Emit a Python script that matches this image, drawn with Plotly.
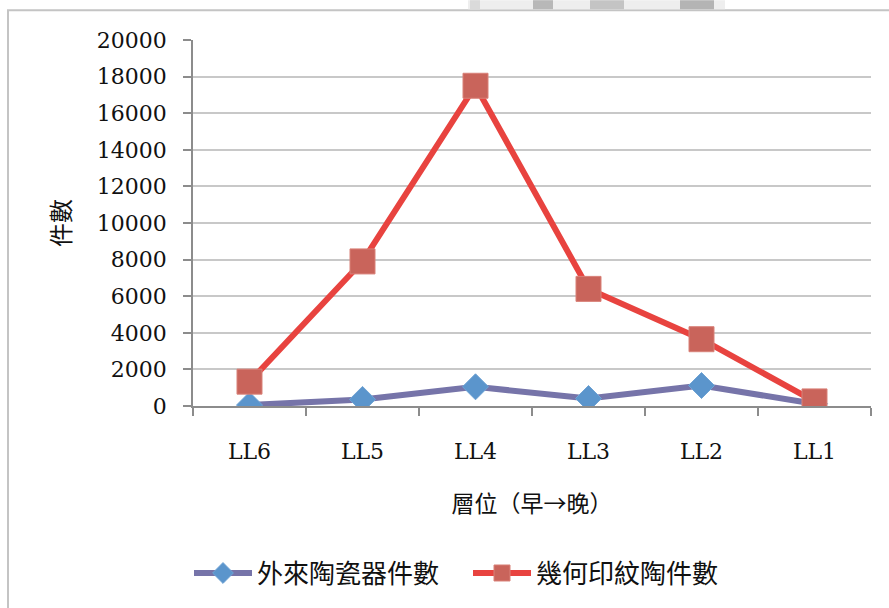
import plotly.graph_objects as go

# ---- data ----
layers = ["LL6", "LL5", "LL4", "LL3", "LL2", "LL1"]
foreign_ceramics = [50, 360, 1050, 410, 1120, 120]        # 外來陶瓷器件數
geometric_pottery = [1330, 7900, 17500, 6400, 3650, 250]  # 幾何印紋陶件數
y_ticks = [0, 2000, 4000, 6000, 8000, 10000, 12000, 14000, 16000, 18000, 20000]

W, H = 889, 608
ML, MR, MT, MB = 193, 18, 40, 200
PW, PH = W - ML - MR, H - MT - MB


def px_x(x):
    return (x - ML) / PW


def px_y(y):
    return (H - MB - y) / PH


CJK = "Noto Sans CJK TC, Noto Sans CJK SC, sans-serif"
SERIF = "DejaVu Serif, Liberation Serif, serif"

fig = go.Figure()
fig.add_trace(go.Scatter(
    x=layers, y=foreign_ceramics, name="外來陶瓷器件數",
    mode="lines+markers",
    line=dict(color="#7674a9", width=6),
    marker=dict(symbol="diamond", size=20, color="#5b95cc",
                line=dict(color="#6fa3d4", width=1)),
))
fig.add_trace(go.Scatter(
    x=layers, y=geometric_pottery, name="幾何印紋陶件數",
    mode="lines+markers",
    line=dict(color="#e8433f", width=6),
    marker=dict(symbol="square", size=25, color="#c9645b",
                line=dict(color="#d98178", width=1)),
))

shapes = [
    # outer chart frame (cut off at right and bottom)
    dict(type="rect", xref="paper", yref="paper",
         x0=px_x(8), x1=px_x(W + 10), y0=px_y(H + 10), y1=px_y(10),
         line=dict(color="#c4c4c4", width=2), fillcolor="rgba(0,0,0,0)", layer="below"),
    # faint image fragment peeking above the frame
    dict(type="rect", xref="paper", yref="paper",
         x0=px_x(468), x1=px_x(725), y0=px_y(9), y1=px_y(0),
         line=dict(width=0), fillcolor="#eeeeee", layer="below"),
]
for a, b, c in [(533, 553, "#b8b8b8"), (590, 624, "#c4c4c4"), (680, 714, "#b4b4b4"), (470, 480, "#dadada")]:
    shapes.append(dict(type="rect", xref="paper", yref="paper",
                       x0=px_x(a), x1=px_x(b), y0=px_y(9), y1=px_y(0),
                       line=dict(width=0), fillcolor=c, layer="below"))

fig.update_layout(
    width=W, height=H,
    margin=dict(l=ML, r=MR, t=MT, b=MB, pad=0),
    paper_bgcolor="white", plot_bgcolor="white",
    showlegend=True,
    legend=dict(orientation="h", x=px_x(189), xanchor="left",
                y=px_y(576), yanchor="middle",
                font=dict(family=CJK, size=26, color="#111111"),
                itemwidth=58, entrywidth=206, entrywidthmode="pixels",
                tracegroupgap=0, bgcolor="rgba(0,0,0,0)"),
    shapes=shapes,
    xaxis=dict(
        type="category", range=[-0.5, 5.5],
        showline=True, linecolor="#8c8c8c", linewidth=1.5,
        ticks="outside", tickson="boundaries", ticklen=8, tickcolor="#8c8c8c", tickwidth=1.5,
        showgrid=False, zeroline=False,
        tickfont=dict(family=SERIF, size=22, color="#111111"),
        ticklabelstandoff=25,
        title=dict(text="層位（早→晚）", font=dict(family=CJK, size=23, color="#111111"), standoff=33),
    ),
    yaxis=dict(
        range=[0, 20000], tickvals=y_ticks, ticktext=[str(v) for v in y_ticks],
        showline=True, linecolor="#8c8c8c", linewidth=1.5,
        ticks="outside", ticklen=8, tickcolor="#8c8c8c", tickwidth=1.5,
        showgrid=True, gridcolor="#c8c8c8", gridwidth=1.5, zeroline=False,
        tickfont=dict(family=SERIF, size=22, color="#111111"),
        ticklabelstandoff=12,
        title=dict(text="件數", font=dict(family=CJK, size=24, color="#111111"), standoff=19),
    ),
)

fig.write_html("out.html", config={"displayModeBar": False},
               post_script="document.body.style.margin='0';")
